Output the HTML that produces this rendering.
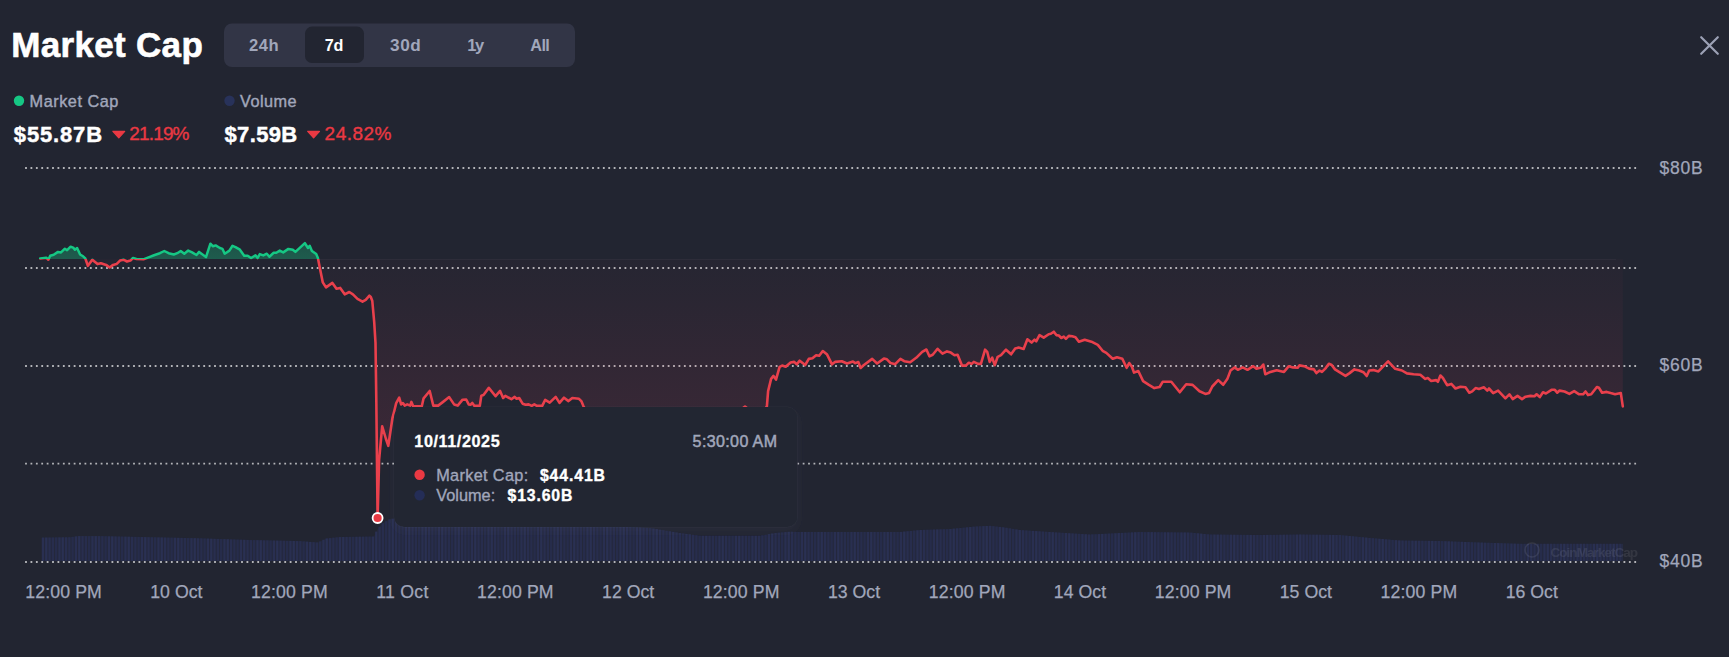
<!DOCTYPE html>
<html><head><meta charset="utf-8"><title>Market Cap</title><style>
html,body{margin:0;padding:0;background:#222531;}
body{width:1729px;height:657px;overflow:hidden;}
svg{display:block;font-family:"Liberation Sans",Arial,sans-serif;}
</style></head><body>
<svg width="1729" height="657" viewBox="0 0 1729 657">
<defs>
<clipPath id="above"><rect x="0" y="0" width="1729" height="258.9"/></clipPath>
<clipPath id="below"><rect x="0" y="258.9" width="1729" height="398.1"/></clipPath>
<linearGradient id="rg" gradientUnits="userSpaceOnUse" x1="0" y1="258.9" x2="0" y2="518">
<stop offset="0" stop-color="#e33c5a" stop-opacity="0.02"/><stop offset="1" stop-color="#e33c5a" stop-opacity="0.17"/></linearGradient>
<linearGradient id="gg" gradientUnits="userSpaceOnUse" x1="0" y1="243" x2="0" y2="258.9">
<stop offset="0" stop-color="#16c784" stop-opacity="0.28"/><stop offset="1" stop-color="#16c784" stop-opacity="0.34"/></linearGradient>
<filter id="sh" x="-10%" y="-20%" width="120%" height="150%"><feDropShadow dx="0" dy="4" stdDeviation="5" flood-color="#5a6080" flood-opacity="0.10"/></filter>
</defs>
<rect width="1729" height="657" fill="#222531"/>

<text x="11.2" y="57.3" font-size="35" fill="#ffffff" font-weight="700" textLength="191.6" lengthAdjust="spacing" stroke="#ffffff" stroke-width="0.6">Market Cap</text>
<rect x="224" y="23.5" width="351" height="43.5" rx="8" fill="#323546"/>
<rect x="305" y="26.6" width="59" height="36.4" rx="7" fill="#222531"/>
<text x="248.9" y="51.3" font-size="16.6" fill="#a1a7bb" font-weight="700" textLength="29.7" lengthAdjust="spacing">24h</text>
<text x="324.8" y="51.3" font-size="16.2" fill="#ffffff" font-weight="700" textLength="18.7" lengthAdjust="spacing">7d</text>
<text x="390" y="51.3" font-size="17.2" fill="#a1a7bb" font-weight="700" textLength="30.8" lengthAdjust="spacing">30d</text>
<text x="467.2" y="51.3" font-size="16.5" fill="#a1a7bb" font-weight="700" textLength="17.1" lengthAdjust="spacing">1y</text>
<text x="530.3" y="51.3" font-size="16.3" fill="#a1a7bb" font-weight="700" textLength="19.6" lengthAdjust="spacing">All</text>
<path d="M1701.2,37.2 L1717.8,53.8 M1717.8,37.2 L1701.2,53.8" stroke="#9ca1b5" stroke-width="2.2" stroke-linecap="round"/>
<circle cx="19" cy="100.8" r="5.2" fill="#16c784"/>
<text x="29.6" y="106.7" font-size="16.3" fill="#a1a7bb" textLength="88.8" lengthAdjust="spacing" stroke="#a1a7bb" stroke-width="0.4">Market Cap</text>
<circle cx="229.5" cy="100.8" r="5.2" fill="#28325a"/>
<text x="240" y="106.7" font-size="16.3" fill="#a1a7bb" textLength="56.5" lengthAdjust="spacing" stroke="#a1a7bb" stroke-width="0.4">Volume</text>
<text x="13.8" y="141.9" font-size="22" fill="#ffffff" font-weight="700" textLength="88.3" lengthAdjust="spacing" stroke="#ffffff" stroke-width="0.45">$55.87B</text>
<path d="M112.9,131.3 L124.7,131.3 L118.8,137.9 Z" fill="#ea3943" stroke="#ea3943" stroke-width="1.2" stroke-linejoin="round"/>
<text x="129.3" y="140.4" font-size="19" fill="#ea3943" textLength="60.2" lengthAdjust="spacing" stroke="#ea3943" stroke-width="0.35">21.19%</text>
<text x="224.5" y="141.9" font-size="22" fill="#ffffff" font-weight="700" textLength="72.7" lengthAdjust="spacing" stroke="#ffffff" stroke-width="0.45">$7.59B</text>
<path d="M307.7,131.3 L319.5,131.3 L313.6,137.9 Z" fill="#ea3943" stroke="#ea3943" stroke-width="1.2" stroke-linejoin="round"/>
<text x="324.6" y="140.4" font-size="19" fill="#ea3943" textLength="66.8" lengthAdjust="spacing" stroke="#ea3943" stroke-width="0.35">24.82%</text>
<text x="1659.5" y="173.8" font-size="17.5" fill="#a1a7bb" textLength="43.2" lengthAdjust="spacing" stroke="#a1a7bb" stroke-width="0.25">$80B</text>
<text x="1659.5" y="371" font-size="17.5" fill="#a1a7bb" textLength="43.2" lengthAdjust="spacing" stroke="#a1a7bb" stroke-width="0.25">$60B</text>
<text x="1659.5" y="566.8" font-size="17.5" fill="#a1a7bb" textLength="43.2" lengthAdjust="spacing" stroke="#a1a7bb" stroke-width="0.25">$40B</text>
<text x="25.2" y="598.1" font-size="17.7" fill="#a1a7bb" textLength="76.6" lengthAdjust="spacing" stroke="#a1a7bb" stroke-width="0.25">12:00 PM</text>
<text x="150.25" y="598.1" font-size="17.7" fill="#a1a7bb" textLength="52.2" lengthAdjust="spacing" stroke="#a1a7bb" stroke-width="0.25">10 Oct</text>
<text x="251.1" y="598.1" font-size="17.7" fill="#a1a7bb" textLength="76.6" lengthAdjust="spacing" stroke="#a1a7bb" stroke-width="0.25">12:00 PM</text>
<text x="376.15" y="598.1" font-size="17.7" fill="#a1a7bb" textLength="52.2" lengthAdjust="spacing" stroke="#a1a7bb" stroke-width="0.25">11 Oct</text>
<text x="477" y="598.1" font-size="17.7" fill="#a1a7bb" textLength="76.6" lengthAdjust="spacing" stroke="#a1a7bb" stroke-width="0.25">12:00 PM</text>
<text x="602.05" y="598.1" font-size="17.7" fill="#a1a7bb" textLength="52.2" lengthAdjust="spacing" stroke="#a1a7bb" stroke-width="0.25">12 Oct</text>
<text x="702.9" y="598.1" font-size="17.7" fill="#a1a7bb" textLength="76.6" lengthAdjust="spacing" stroke="#a1a7bb" stroke-width="0.25">12:00 PM</text>
<text x="827.95" y="598.1" font-size="17.7" fill="#a1a7bb" textLength="52.2" lengthAdjust="spacing" stroke="#a1a7bb" stroke-width="0.25">13 Oct</text>
<text x="928.8" y="598.1" font-size="17.7" fill="#a1a7bb" textLength="76.6" lengthAdjust="spacing" stroke="#a1a7bb" stroke-width="0.25">12:00 PM</text>
<text x="1053.85" y="598.1" font-size="17.7" fill="#a1a7bb" textLength="52.2" lengthAdjust="spacing" stroke="#a1a7bb" stroke-width="0.25">14 Oct</text>
<text x="1154.7" y="598.1" font-size="17.7" fill="#a1a7bb" textLength="76.6" lengthAdjust="spacing" stroke="#a1a7bb" stroke-width="0.25">12:00 PM</text>
<text x="1279.75" y="598.1" font-size="17.7" fill="#a1a7bb" textLength="52.2" lengthAdjust="spacing" stroke="#a1a7bb" stroke-width="0.25">15 Oct</text>
<text x="1380.6" y="598.1" font-size="17.7" fill="#a1a7bb" textLength="76.6" lengthAdjust="spacing" stroke="#a1a7bb" stroke-width="0.25">12:00 PM</text>
<text x="1505.65" y="598.1" font-size="17.7" fill="#a1a7bb" textLength="52.2" lengthAdjust="spacing" stroke="#a1a7bb" stroke-width="0.25">16 Oct</text>
<path d="M41.8,537.6 L70,537.2 L78,536.1 L100,536.1 L200,538.3 L250,540 L300,541.1 L318,542.5 L326,538.5 L340,537 L374,536.5 L377,530 L382,523.5 L391,518.5 L396,519 L400,521 L450,524 L500,525 L560,526 L620,526.5 L650,528 L680,533 L700,535.8 L760,535.8 L775,533 L790,531.7 L800,532 L900,532 L920,530 L950,529 L975,526.5 L990,525.8 L1005,527.5 L1020,530 L1050,532 L1090,534.5 L1140,532 L1190,532.5 L1210,534.5 L1260,535 L1300,534.5 L1340,535 L1370,537.9 L1400,540.5 L1440,541 L1480,542.5 L1520,543.8 L1623,543.8 L1623,561 L41.8,561 Z" fill="#24283b"/>
<g><rect x="41.8" y="537.58" width="2.3" height="23.42" fill="#292f51"/><rect x="45.1" y="537.54" width="2.3" height="23.46" fill="#2a3053"/><rect x="48.4" y="537.49" width="2.3" height="23.51" fill="#282e4f"/><rect x="51.7" y="537.44" width="2.3" height="23.56" fill="#272d4d"/><rect x="55" y="537.4" width="2.3" height="23.6" fill="#262c4b"/><rect x="58.3" y="537.35" width="2.3" height="23.65" fill="#292f51"/><rect x="61.6" y="537.3" width="2.3" height="23.7" fill="#2a3053"/><rect x="64.9" y="537.26" width="2.3" height="23.74" fill="#282e4f"/><rect x="68.2" y="537.21" width="2.3" height="23.79" fill="#272d4d"/><rect x="71.5" y="536.84" width="2.3" height="24.16" fill="#262c4b"/><rect x="74.8" y="536.38" width="2.3" height="24.62" fill="#292f51"/><rect x="78.1" y="536.1" width="2.3" height="24.9" fill="#2a3053"/><rect x="81.4" y="536.1" width="2.3" height="24.9" fill="#282e4f"/><rect x="84.7" y="536.1" width="2.3" height="24.9" fill="#272d4d"/><rect x="88" y="536.1" width="2.3" height="24.9" fill="#262c4b"/><rect x="91.3" y="536.1" width="2.3" height="24.9" fill="#292f51"/><rect x="94.6" y="536.1" width="2.3" height="24.9" fill="#2a3053"/><rect x="97.9" y="536.1" width="2.3" height="24.9" fill="#282e4f"/><rect x="101.2" y="536.15" width="2.3" height="24.85" fill="#272d4d"/><rect x="104.5" y="536.22" width="2.3" height="24.78" fill="#262c4b"/><rect x="107.8" y="536.3" width="2.3" height="24.7" fill="#292f51"/><rect x="111.1" y="536.37" width="2.3" height="24.63" fill="#2a3053"/><rect x="114.4" y="536.44" width="2.3" height="24.56" fill="#282e4f"/><rect x="117.7" y="536.51" width="2.3" height="24.49" fill="#272d4d"/><rect x="121" y="536.59" width="2.3" height="24.41" fill="#262c4b"/><rect x="124.3" y="536.66" width="2.3" height="24.34" fill="#292f51"/><rect x="127.6" y="536.73" width="2.3" height="24.27" fill="#2a3053"/><rect x="130.9" y="536.81" width="2.3" height="24.19" fill="#282e4f"/><rect x="134.2" y="536.88" width="2.3" height="24.12" fill="#272d4d"/><rect x="137.5" y="536.95" width="2.3" height="24.05" fill="#262c4b"/><rect x="140.8" y="537.02" width="2.3" height="23.98" fill="#292f51"/><rect x="144.1" y="537.1" width="2.3" height="23.9" fill="#2a3053"/><rect x="147.4" y="537.17" width="2.3" height="23.83" fill="#282e4f"/><rect x="150.7" y="537.24" width="2.3" height="23.76" fill="#272d4d"/><rect x="154" y="537.31" width="2.3" height="23.69" fill="#262c4b"/><rect x="157.3" y="537.39" width="2.3" height="23.61" fill="#292f51"/><rect x="160.6" y="537.46" width="2.3" height="23.54" fill="#2a3053"/><rect x="163.9" y="537.53" width="2.3" height="23.47" fill="#282e4f"/><rect x="167.2" y="537.6" width="2.3" height="23.4" fill="#272d4d"/><rect x="170.5" y="537.68" width="2.3" height="23.32" fill="#262c4b"/><rect x="173.8" y="537.75" width="2.3" height="23.25" fill="#292f51"/><rect x="177.1" y="537.82" width="2.3" height="23.18" fill="#2a3053"/><rect x="180.4" y="537.89" width="2.3" height="23.11" fill="#282e4f"/><rect x="183.7" y="537.97" width="2.3" height="23.03" fill="#272d4d"/><rect x="187" y="538.04" width="2.3" height="22.96" fill="#262c4b"/><rect x="190.3" y="538.11" width="2.3" height="22.89" fill="#292f51"/><rect x="193.6" y="538.18" width="2.3" height="22.82" fill="#2a3053"/><rect x="196.9" y="538.26" width="2.3" height="22.74" fill="#282e4f"/><rect x="200.2" y="538.35" width="2.3" height="22.65" fill="#272d4d"/><rect x="203.5" y="538.46" width="2.3" height="22.54" fill="#262c4b"/><rect x="206.8" y="538.57" width="2.3" height="22.43" fill="#292f51"/><rect x="210.1" y="538.68" width="2.3" height="22.32" fill="#2a3053"/><rect x="213.4" y="538.79" width="2.3" height="22.21" fill="#282e4f"/><rect x="216.7" y="538.91" width="2.3" height="22.09" fill="#272d4d"/><rect x="220" y="539.02" width="2.3" height="21.98" fill="#262c4b"/><rect x="223.3" y="539.13" width="2.3" height="21.87" fill="#292f51"/><rect x="226.6" y="539.24" width="2.3" height="21.76" fill="#2a3053"/><rect x="229.9" y="539.36" width="2.3" height="21.64" fill="#282e4f"/><rect x="233.2" y="539.47" width="2.3" height="21.53" fill="#272d4d"/><rect x="236.5" y="539.58" width="2.3" height="21.42" fill="#262c4b"/><rect x="239.8" y="539.69" width="2.3" height="21.31" fill="#292f51"/><rect x="243.1" y="539.8" width="2.3" height="21.2" fill="#2a3053"/><rect x="246.4" y="539.92" width="2.3" height="21.08" fill="#282e4f"/><rect x="249.7" y="540.02" width="2.3" height="20.98" fill="#272d4d"/><rect x="253" y="540.09" width="2.3" height="20.91" fill="#262c4b"/><rect x="256.3" y="540.16" width="2.3" height="20.84" fill="#292f51"/><rect x="259.6" y="540.24" width="2.3" height="20.76" fill="#2a3053"/><rect x="262.9" y="540.31" width="2.3" height="20.69" fill="#282e4f"/><rect x="266.2" y="540.38" width="2.3" height="20.62" fill="#272d4d"/><rect x="269.5" y="540.45" width="2.3" height="20.55" fill="#262c4b"/><rect x="272.8" y="540.53" width="2.3" height="20.47" fill="#292f51"/><rect x="276.1" y="540.6" width="2.3" height="20.4" fill="#2a3053"/><rect x="279.4" y="540.67" width="2.3" height="20.33" fill="#282e4f"/><rect x="282.7" y="540.74" width="2.3" height="20.26" fill="#272d4d"/><rect x="286" y="540.82" width="2.3" height="20.18" fill="#262c4b"/><rect x="289.3" y="540.89" width="2.3" height="20.11" fill="#292f51"/><rect x="292.6" y="540.96" width="2.3" height="20.04" fill="#2a3053"/><rect x="295.9" y="541.04" width="2.3" height="19.96" fill="#282e4f"/><rect x="299.2" y="541.13" width="2.3" height="19.87" fill="#272d4d"/><rect x="302.5" y="541.38" width="2.3" height="19.62" fill="#262c4b"/><rect x="305.8" y="541.64" width="2.3" height="19.36" fill="#292f51"/><rect x="309.1" y="541.9" width="2.3" height="19.1" fill="#2a3053"/><rect x="312.4" y="542.15" width="2.3" height="18.85" fill="#282e4f"/><rect x="315.7" y="542.41" width="2.3" height="18.59" fill="#272d4d"/><rect x="319" y="541.42" width="2.3" height="19.58" fill="#262c4b"/><rect x="322.3" y="539.77" width="2.3" height="21.23" fill="#292f51"/><rect x="325.6" y="538.42" width="2.3" height="22.58" fill="#2a3053"/><rect x="328.9" y="538.07" width="2.3" height="22.93" fill="#282e4f"/><rect x="332.2" y="537.71" width="2.3" height="23.29" fill="#272d4d"/><rect x="335.5" y="537.36" width="2.3" height="23.64" fill="#262c4b"/><rect x="338.8" y="537.01" width="2.3" height="23.99" fill="#292f51"/><rect x="342.1" y="536.95" width="2.3" height="24.05" fill="#2a3053"/><rect x="345.4" y="536.9" width="2.3" height="24.1" fill="#282e4f"/><rect x="348.7" y="536.86" width="2.3" height="24.14" fill="#272d4d"/><rect x="352" y="536.81" width="2.3" height="24.19" fill="#262c4b"/><rect x="355.3" y="536.76" width="2.3" height="24.24" fill="#292f51"/><rect x="358.6" y="536.71" width="2.3" height="24.29" fill="#2a3053"/><rect x="361.9" y="536.66" width="2.3" height="24.34" fill="#282e4f"/><rect x="365.2" y="536.61" width="2.3" height="24.39" fill="#272d4d"/><rect x="368.5" y="536.56" width="2.3" height="24.44" fill="#262c4b"/><rect x="371.8" y="536.52" width="2.3" height="24.48" fill="#292f51"/><rect x="375.1" y="531.62" width="2.3" height="29.38" fill="#2a3053"/><rect x="378.4" y="526.68" width="2.3" height="34.32" fill="#282e4f"/><rect x="381.7" y="523.03" width="2.3" height="37.97" fill="#272d4d"/><rect x="385" y="521.19" width="2.3" height="39.81" fill="#262c4b"/><rect x="388.3" y="519.36" width="2.3" height="41.64" fill="#292f51"/><rect x="391.6" y="518.68" width="2.3" height="42.32" fill="#2a3053"/><rect x="394.9" y="519.03" width="2.3" height="41.97" fill="#282e4f"/><rect x="398.2" y="520.68" width="2.3" height="40.32" fill="#272d4d"/><rect x="401.5" y="521.16" width="2.3" height="39.84" fill="#262c4b"/><rect x="404.8" y="521.36" width="2.3" height="39.64" fill="#292f51"/><rect x="408.1" y="521.56" width="2.3" height="39.44" fill="#2a3053"/><rect x="411.4" y="521.75" width="2.3" height="39.25" fill="#282e4f"/><rect x="414.7" y="521.95" width="2.3" height="39.05" fill="#272d4d"/><rect x="418" y="522.15" width="2.3" height="38.85" fill="#262c4b"/><rect x="421.3" y="522.35" width="2.3" height="38.65" fill="#292f51"/><rect x="424.6" y="522.55" width="2.3" height="38.45" fill="#2a3053"/><rect x="427.9" y="522.74" width="2.3" height="38.26" fill="#282e4f"/><rect x="431.2" y="522.94" width="2.3" height="38.06" fill="#272d4d"/><rect x="434.5" y="523.14" width="2.3" height="37.86" fill="#262c4b"/><rect x="437.8" y="523.34" width="2.3" height="37.66" fill="#292f51"/><rect x="441.1" y="523.54" width="2.3" height="37.46" fill="#2a3053"/><rect x="444.4" y="523.73" width="2.3" height="37.27" fill="#282e4f"/><rect x="447.7" y="523.93" width="2.3" height="37.07" fill="#272d4d"/><rect x="451" y="524.04" width="2.3" height="36.96" fill="#262c4b"/><rect x="454.3" y="524.11" width="2.3" height="36.89" fill="#292f51"/><rect x="457.6" y="524.18" width="2.3" height="36.82" fill="#2a3053"/><rect x="460.9" y="524.24" width="2.3" height="36.76" fill="#282e4f"/><rect x="464.2" y="524.31" width="2.3" height="36.69" fill="#272d4d"/><rect x="467.5" y="524.37" width="2.3" height="36.63" fill="#262c4b"/><rect x="470.8" y="524.44" width="2.3" height="36.56" fill="#292f51"/><rect x="474.1" y="524.5" width="2.3" height="36.5" fill="#2a3053"/><rect x="477.4" y="524.57" width="2.3" height="36.43" fill="#282e4f"/><rect x="480.7" y="524.64" width="2.3" height="36.36" fill="#272d4d"/><rect x="484" y="524.7" width="2.3" height="36.3" fill="#262c4b"/><rect x="487.3" y="524.77" width="2.3" height="36.23" fill="#292f51"/><rect x="490.6" y="524.84" width="2.3" height="36.16" fill="#2a3053"/><rect x="493.9" y="524.9" width="2.3" height="36.1" fill="#282e4f"/><rect x="497.2" y="524.97" width="2.3" height="36.03" fill="#272d4d"/><rect x="500.5" y="525.03" width="2.3" height="35.97" fill="#262c4b"/><rect x="503.8" y="525.08" width="2.3" height="35.92" fill="#292f51"/><rect x="507.1" y="525.14" width="2.3" height="35.86" fill="#2a3053"/><rect x="510.4" y="525.19" width="2.3" height="35.81" fill="#282e4f"/><rect x="513.7" y="525.25" width="2.3" height="35.75" fill="#272d4d"/><rect x="517" y="525.3" width="2.3" height="35.7" fill="#262c4b"/><rect x="520.3" y="525.36" width="2.3" height="35.64" fill="#292f51"/><rect x="523.6" y="525.41" width="2.3" height="35.59" fill="#2a3053"/><rect x="526.9" y="525.47" width="2.3" height="35.53" fill="#282e4f"/><rect x="530.2" y="525.52" width="2.3" height="35.48" fill="#272d4d"/><rect x="533.5" y="525.58" width="2.3" height="35.42" fill="#262c4b"/><rect x="536.8" y="525.63" width="2.3" height="35.37" fill="#292f51"/><rect x="540.1" y="525.69" width="2.3" height="35.31" fill="#2a3053"/><rect x="543.4" y="525.74" width="2.3" height="35.26" fill="#282e4f"/><rect x="546.7" y="525.8" width="2.3" height="35.2" fill="#272d4d"/><rect x="550" y="525.85" width="2.3" height="35.15" fill="#262c4b"/><rect x="553.3" y="525.91" width="2.3" height="35.09" fill="#292f51"/><rect x="556.6" y="525.96" width="2.3" height="35.04" fill="#2a3053"/><rect x="559.9" y="526.01" width="2.3" height="34.99" fill="#282e4f"/><rect x="563.2" y="526.04" width="2.3" height="34.96" fill="#272d4d"/><rect x="566.5" y="526.06" width="2.3" height="34.94" fill="#262c4b"/><rect x="569.8" y="526.09" width="2.3" height="34.91" fill="#292f51"/><rect x="573.1" y="526.12" width="2.3" height="34.88" fill="#2a3053"/><rect x="576.4" y="526.15" width="2.3" height="34.85" fill="#282e4f"/><rect x="579.7" y="526.17" width="2.3" height="34.83" fill="#272d4d"/><rect x="583" y="526.2" width="2.3" height="34.8" fill="#262c4b"/><rect x="586.3" y="526.23" width="2.3" height="34.77" fill="#292f51"/><rect x="589.6" y="526.26" width="2.3" height="34.74" fill="#2a3053"/><rect x="592.9" y="526.28" width="2.3" height="34.72" fill="#282e4f"/><rect x="596.2" y="526.31" width="2.3" height="34.69" fill="#272d4d"/><rect x="599.5" y="526.34" width="2.3" height="34.66" fill="#262c4b"/><rect x="602.8" y="526.37" width="2.3" height="34.63" fill="#292f51"/><rect x="606.1" y="526.39" width="2.3" height="34.61" fill="#2a3053"/><rect x="609.4" y="526.42" width="2.3" height="34.58" fill="#282e4f"/><rect x="612.7" y="526.45" width="2.3" height="34.55" fill="#272d4d"/><rect x="616" y="526.48" width="2.3" height="34.52" fill="#262c4b"/><rect x="619.3" y="526.52" width="2.3" height="34.48" fill="#292f51"/><rect x="622.6" y="526.69" width="2.3" height="34.31" fill="#2a3053"/><rect x="625.9" y="526.85" width="2.3" height="34.15" fill="#282e4f"/><rect x="629.2" y="527.02" width="2.3" height="33.98" fill="#272d4d"/><rect x="632.5" y="527.18" width="2.3" height="33.82" fill="#262c4b"/><rect x="635.8" y="527.35" width="2.3" height="33.65" fill="#292f51"/><rect x="639.1" y="527.51" width="2.3" height="33.49" fill="#2a3053"/><rect x="642.4" y="527.68" width="2.3" height="33.32" fill="#282e4f"/><rect x="645.7" y="527.84" width="2.3" height="33.16" fill="#272d4d"/><rect x="649" y="528.02" width="2.3" height="32.98" fill="#262c4b"/><rect x="652.3" y="528.57" width="2.3" height="32.43" fill="#292f51"/><rect x="655.6" y="529.12" width="2.3" height="31.88" fill="#2a3053"/><rect x="658.9" y="529.67" width="2.3" height="31.33" fill="#282e4f"/><rect x="662.2" y="530.22" width="2.3" height="30.78" fill="#272d4d"/><rect x="665.5" y="530.77" width="2.3" height="30.23" fill="#262c4b"/><rect x="668.8" y="531.32" width="2.3" height="29.68" fill="#292f51"/><rect x="672.1" y="531.87" width="2.3" height="29.13" fill="#2a3053"/><rect x="675.4" y="532.42" width="2.3" height="28.58" fill="#282e4f"/><rect x="678.7" y="532.97" width="2.3" height="28.03" fill="#272d4d"/><rect x="682" y="533.44" width="2.3" height="27.56" fill="#262c4b"/><rect x="685.3" y="533.9" width="2.3" height="27.1" fill="#292f51"/><rect x="688.6" y="534.36" width="2.3" height="26.64" fill="#2a3053"/><rect x="691.9" y="534.83" width="2.3" height="26.17" fill="#282e4f"/><rect x="695.2" y="535.29" width="2.3" height="25.71" fill="#272d4d"/><rect x="698.5" y="535.75" width="2.3" height="25.25" fill="#262c4b"/><rect x="701.8" y="535.8" width="2.3" height="25.2" fill="#292f51"/><rect x="705.1" y="535.8" width="2.3" height="25.2" fill="#2a3053"/><rect x="708.4" y="535.8" width="2.3" height="25.2" fill="#282e4f"/><rect x="711.7" y="535.8" width="2.3" height="25.2" fill="#272d4d"/><rect x="715" y="535.8" width="2.3" height="25.2" fill="#262c4b"/><rect x="718.3" y="535.8" width="2.3" height="25.2" fill="#292f51"/><rect x="721.6" y="535.8" width="2.3" height="25.2" fill="#2a3053"/><rect x="724.9" y="535.8" width="2.3" height="25.2" fill="#282e4f"/><rect x="728.2" y="535.8" width="2.3" height="25.2" fill="#272d4d"/><rect x="731.5" y="535.8" width="2.3" height="25.2" fill="#262c4b"/><rect x="734.8" y="535.8" width="2.3" height="25.2" fill="#292f51"/><rect x="738.1" y="535.8" width="2.3" height="25.2" fill="#2a3053"/><rect x="741.4" y="535.8" width="2.3" height="25.2" fill="#282e4f"/><rect x="744.7" y="535.8" width="2.3" height="25.2" fill="#272d4d"/><rect x="748" y="535.8" width="2.3" height="25.2" fill="#262c4b"/><rect x="751.3" y="535.8" width="2.3" height="25.2" fill="#292f51"/><rect x="754.6" y="535.8" width="2.3" height="25.2" fill="#2a3053"/><rect x="757.9" y="535.8" width="2.3" height="25.2" fill="#282e4f"/><rect x="761.2" y="535.36" width="2.3" height="25.64" fill="#272d4d"/><rect x="764.5" y="534.75" width="2.3" height="26.25" fill="#262c4b"/><rect x="767.8" y="534.13" width="2.3" height="26.87" fill="#292f51"/><rect x="771.1" y="533.51" width="2.3" height="27.49" fill="#2a3053"/><rect x="774.4" y="532.95" width="2.3" height="28.05" fill="#282e4f"/><rect x="777.7" y="532.67" width="2.3" height="28.33" fill="#272d4d"/><rect x="781" y="532.38" width="2.3" height="28.62" fill="#262c4b"/><rect x="784.3" y="532.09" width="2.3" height="28.91" fill="#292f51"/><rect x="787.6" y="531.81" width="2.3" height="29.19" fill="#2a3053"/><rect x="790.9" y="531.76" width="2.3" height="29.24" fill="#282e4f"/><rect x="794.2" y="531.86" width="2.3" height="29.14" fill="#272d4d"/><rect x="797.5" y="531.96" width="2.3" height="29.04" fill="#262c4b"/><rect x="800.8" y="532" width="2.3" height="29" fill="#292f51"/><rect x="804.1" y="532" width="2.3" height="29" fill="#2a3053"/><rect x="807.4" y="532" width="2.3" height="29" fill="#282e4f"/><rect x="810.7" y="532" width="2.3" height="29" fill="#272d4d"/><rect x="814" y="532" width="2.3" height="29" fill="#262c4b"/><rect x="817.3" y="532" width="2.3" height="29" fill="#292f51"/><rect x="820.6" y="532" width="2.3" height="29" fill="#2a3053"/><rect x="823.9" y="532" width="2.3" height="29" fill="#282e4f"/><rect x="827.2" y="532" width="2.3" height="29" fill="#272d4d"/><rect x="830.5" y="532" width="2.3" height="29" fill="#262c4b"/><rect x="833.8" y="532" width="2.3" height="29" fill="#292f51"/><rect x="837.1" y="532" width="2.3" height="29" fill="#2a3053"/><rect x="840.4" y="532" width="2.3" height="29" fill="#282e4f"/><rect x="843.7" y="532" width="2.3" height="29" fill="#272d4d"/><rect x="847" y="532" width="2.3" height="29" fill="#262c4b"/><rect x="850.3" y="532" width="2.3" height="29" fill="#292f51"/><rect x="853.6" y="532" width="2.3" height="29" fill="#2a3053"/><rect x="856.9" y="532" width="2.3" height="29" fill="#282e4f"/><rect x="860.2" y="532" width="2.3" height="29" fill="#272d4d"/><rect x="863.5" y="532" width="2.3" height="29" fill="#262c4b"/><rect x="866.8" y="532" width="2.3" height="29" fill="#292f51"/><rect x="870.1" y="532" width="2.3" height="29" fill="#2a3053"/><rect x="873.4" y="532" width="2.3" height="29" fill="#282e4f"/><rect x="876.7" y="532" width="2.3" height="29" fill="#272d4d"/><rect x="880" y="532" width="2.3" height="29" fill="#262c4b"/><rect x="883.3" y="532" width="2.3" height="29" fill="#292f51"/><rect x="886.6" y="532" width="2.3" height="29" fill="#2a3053"/><rect x="889.9" y="532" width="2.3" height="29" fill="#282e4f"/><rect x="893.2" y="532" width="2.3" height="29" fill="#272d4d"/><rect x="896.5" y="532" width="2.3" height="29" fill="#262c4b"/><rect x="899.8" y="531.91" width="2.3" height="29.09" fill="#292f51"/><rect x="903.1" y="531.58" width="2.3" height="29.42" fill="#2a3053"/><rect x="906.4" y="531.25" width="2.3" height="29.75" fill="#282e4f"/><rect x="909.7" y="530.92" width="2.3" height="30.08" fill="#272d4d"/><rect x="913" y="530.59" width="2.3" height="30.41" fill="#262c4b"/><rect x="916.3" y="530.26" width="2.3" height="30.74" fill="#292f51"/><rect x="919.6" y="529.98" width="2.3" height="31.02" fill="#2a3053"/><rect x="922.9" y="529.87" width="2.3" height="31.13" fill="#282e4f"/><rect x="926.2" y="529.76" width="2.3" height="31.24" fill="#272d4d"/><rect x="929.5" y="529.65" width="2.3" height="31.35" fill="#262c4b"/><rect x="932.8" y="529.54" width="2.3" height="31.46" fill="#292f51"/><rect x="936.1" y="529.43" width="2.3" height="31.57" fill="#2a3053"/><rect x="939.4" y="529.32" width="2.3" height="31.68" fill="#282e4f"/><rect x="942.7" y="529.21" width="2.3" height="31.79" fill="#272d4d"/><rect x="946" y="529.1" width="2.3" height="31.9" fill="#262c4b"/><rect x="949.3" y="528.96" width="2.3" height="32.04" fill="#292f51"/><rect x="952.6" y="528.63" width="2.3" height="32.37" fill="#2a3053"/><rect x="955.9" y="528.3" width="2.3" height="32.7" fill="#282e4f"/><rect x="959.2" y="527.97" width="2.3" height="33.03" fill="#272d4d"/><rect x="962.5" y="527.64" width="2.3" height="33.36" fill="#262c4b"/><rect x="965.8" y="527.31" width="2.3" height="33.69" fill="#292f51"/><rect x="969.1" y="526.98" width="2.3" height="34.02" fill="#2a3053"/><rect x="972.4" y="526.65" width="2.3" height="34.35" fill="#282e4f"/><rect x="975.7" y="526.41" width="2.3" height="34.59" fill="#272d4d"/><rect x="979" y="526.26" width="2.3" height="34.74" fill="#262c4b"/><rect x="982.3" y="526.11" width="2.3" height="34.89" fill="#292f51"/><rect x="985.6" y="525.95" width="2.3" height="35.05" fill="#2a3053"/><rect x="988.9" y="525.81" width="2.3" height="35.19" fill="#282e4f"/><rect x="992.2" y="526.18" width="2.3" height="34.82" fill="#272d4d"/><rect x="995.5" y="526.55" width="2.3" height="34.45" fill="#262c4b"/><rect x="998.8" y="526.93" width="2.3" height="34.07" fill="#292f51"/><rect x="1002.1" y="527.3" width="2.3" height="33.7" fill="#2a3053"/><rect x="1005.4" y="527.76" width="2.3" height="33.24" fill="#282e4f"/><rect x="1008.7" y="528.31" width="2.3" height="32.69" fill="#272d4d"/><rect x="1012" y="528.86" width="2.3" height="32.14" fill="#262c4b"/><rect x="1015.3" y="529.41" width="2.3" height="31.59" fill="#292f51"/><rect x="1018.6" y="529.96" width="2.3" height="31.04" fill="#2a3053"/><rect x="1021.9" y="530.2" width="2.3" height="30.8" fill="#282e4f"/><rect x="1025.2" y="530.42" width="2.3" height="30.58" fill="#272d4d"/><rect x="1028.5" y="530.64" width="2.3" height="30.36" fill="#262c4b"/><rect x="1031.8" y="530.86" width="2.3" height="30.14" fill="#292f51"/><rect x="1035.1" y="531.08" width="2.3" height="29.92" fill="#2a3053"/><rect x="1038.4" y="531.3" width="2.3" height="29.7" fill="#282e4f"/><rect x="1041.7" y="531.52" width="2.3" height="29.48" fill="#272d4d"/><rect x="1045" y="531.74" width="2.3" height="29.26" fill="#262c4b"/><rect x="1048.3" y="531.96" width="2.3" height="29.04" fill="#292f51"/><rect x="1051.6" y="532.17" width="2.3" height="28.83" fill="#2a3053"/><rect x="1054.9" y="532.38" width="2.3" height="28.62" fill="#282e4f"/><rect x="1058.2" y="532.58" width="2.3" height="28.42" fill="#272d4d"/><rect x="1061.5" y="532.79" width="2.3" height="28.21" fill="#262c4b"/><rect x="1064.8" y="533" width="2.3" height="28" fill="#292f51"/><rect x="1068.1" y="533.2" width="2.3" height="27.8" fill="#2a3053"/><rect x="1071.4" y="533.41" width="2.3" height="27.59" fill="#282e4f"/><rect x="1074.7" y="533.62" width="2.3" height="27.38" fill="#272d4d"/><rect x="1078" y="533.82" width="2.3" height="27.18" fill="#262c4b"/><rect x="1081.3" y="534.03" width="2.3" height="26.97" fill="#292f51"/><rect x="1084.6" y="534.23" width="2.3" height="26.77" fill="#2a3053"/><rect x="1087.9" y="534.44" width="2.3" height="26.56" fill="#282e4f"/><rect x="1091.2" y="534.38" width="2.3" height="26.62" fill="#272d4d"/><rect x="1094.5" y="534.22" width="2.3" height="26.78" fill="#262c4b"/><rect x="1097.8" y="534.05" width="2.3" height="26.95" fill="#292f51"/><rect x="1101.1" y="533.89" width="2.3" height="27.11" fill="#2a3053"/><rect x="1104.4" y="533.72" width="2.3" height="27.28" fill="#282e4f"/><rect x="1107.7" y="533.56" width="2.3" height="27.44" fill="#272d4d"/><rect x="1111" y="533.39" width="2.3" height="27.61" fill="#262c4b"/><rect x="1114.3" y="533.23" width="2.3" height="27.77" fill="#292f51"/><rect x="1117.6" y="533.06" width="2.3" height="27.94" fill="#2a3053"/><rect x="1120.9" y="532.9" width="2.3" height="28.1" fill="#282e4f"/><rect x="1124.2" y="532.73" width="2.3" height="28.27" fill="#272d4d"/><rect x="1127.5" y="532.57" width="2.3" height="28.43" fill="#262c4b"/><rect x="1130.8" y="532.4" width="2.3" height="28.6" fill="#292f51"/><rect x="1134.1" y="532.24" width="2.3" height="28.76" fill="#2a3053"/><rect x="1137.4" y="532.07" width="2.3" height="28.93" fill="#282e4f"/><rect x="1140.7" y="532.02" width="2.3" height="28.98" fill="#272d4d"/><rect x="1144" y="532.05" width="2.3" height="28.95" fill="#262c4b"/><rect x="1147.3" y="532.08" width="2.3" height="28.92" fill="#292f51"/><rect x="1150.6" y="532.12" width="2.3" height="28.88" fill="#2a3053"/><rect x="1153.9" y="532.15" width="2.3" height="28.85" fill="#282e4f"/><rect x="1157.2" y="532.18" width="2.3" height="28.82" fill="#272d4d"/><rect x="1160.5" y="532.22" width="2.3" height="28.78" fill="#262c4b"/><rect x="1163.8" y="532.25" width="2.3" height="28.75" fill="#292f51"/><rect x="1167.1" y="532.28" width="2.3" height="28.72" fill="#2a3053"/><rect x="1170.4" y="532.32" width="2.3" height="28.68" fill="#282e4f"/><rect x="1173.7" y="532.35" width="2.3" height="28.65" fill="#272d4d"/><rect x="1177" y="532.38" width="2.3" height="28.62" fill="#262c4b"/><rect x="1180.3" y="532.41" width="2.3" height="28.59" fill="#292f51"/><rect x="1183.6" y="532.45" width="2.3" height="28.55" fill="#2a3053"/><rect x="1186.9" y="532.48" width="2.3" height="28.52" fill="#282e4f"/><rect x="1190.2" y="532.63" width="2.3" height="28.37" fill="#272d4d"/><rect x="1193.5" y="532.96" width="2.3" height="28.04" fill="#262c4b"/><rect x="1196.8" y="533.29" width="2.3" height="27.71" fill="#292f51"/><rect x="1200.1" y="533.62" width="2.3" height="27.38" fill="#2a3053"/><rect x="1203.4" y="533.95" width="2.3" height="27.05" fill="#282e4f"/><rect x="1206.7" y="534.28" width="2.3" height="26.72" fill="#272d4d"/><rect x="1210" y="534.51" width="2.3" height="26.49" fill="#262c4b"/><rect x="1213.3" y="534.54" width="2.3" height="26.46" fill="#292f51"/><rect x="1216.6" y="534.58" width="2.3" height="26.42" fill="#2a3053"/><rect x="1219.9" y="534.61" width="2.3" height="26.39" fill="#282e4f"/><rect x="1223.2" y="534.64" width="2.3" height="26.36" fill="#272d4d"/><rect x="1226.5" y="534.68" width="2.3" height="26.32" fill="#262c4b"/><rect x="1229.8" y="534.71" width="2.3" height="26.29" fill="#292f51"/><rect x="1233.1" y="534.74" width="2.3" height="26.26" fill="#2a3053"/><rect x="1236.4" y="534.78" width="2.3" height="26.22" fill="#282e4f"/><rect x="1239.7" y="534.81" width="2.3" height="26.19" fill="#272d4d"/><rect x="1243" y="534.84" width="2.3" height="26.16" fill="#262c4b"/><rect x="1246.3" y="534.87" width="2.3" height="26.13" fill="#292f51"/><rect x="1249.6" y="534.91" width="2.3" height="26.09" fill="#2a3053"/><rect x="1252.9" y="534.94" width="2.3" height="26.06" fill="#282e4f"/><rect x="1256.2" y="534.97" width="2.3" height="26.03" fill="#272d4d"/><rect x="1259.5" y="534.99" width="2.3" height="26.01" fill="#262c4b"/><rect x="1262.8" y="534.95" width="2.3" height="26.05" fill="#292f51"/><rect x="1266.1" y="534.91" width="2.3" height="26.09" fill="#2a3053"/><rect x="1269.4" y="534.87" width="2.3" height="26.13" fill="#282e4f"/><rect x="1272.7" y="534.83" width="2.3" height="26.17" fill="#272d4d"/><rect x="1276" y="534.79" width="2.3" height="26.21" fill="#262c4b"/><rect x="1279.3" y="534.74" width="2.3" height="26.26" fill="#292f51"/><rect x="1282.6" y="534.7" width="2.3" height="26.3" fill="#2a3053"/><rect x="1285.9" y="534.66" width="2.3" height="26.34" fill="#282e4f"/><rect x="1289.2" y="534.62" width="2.3" height="26.38" fill="#272d4d"/><rect x="1292.5" y="534.58" width="2.3" height="26.42" fill="#262c4b"/><rect x="1295.8" y="534.54" width="2.3" height="26.46" fill="#292f51"/><rect x="1299.1" y="534.5" width="2.3" height="26.5" fill="#2a3053"/><rect x="1302.4" y="534.54" width="2.3" height="26.46" fill="#282e4f"/><rect x="1305.7" y="534.59" width="2.3" height="26.41" fill="#272d4d"/><rect x="1309" y="534.63" width="2.3" height="26.37" fill="#262c4b"/><rect x="1312.3" y="534.67" width="2.3" height="26.33" fill="#292f51"/><rect x="1315.6" y="534.71" width="2.3" height="26.29" fill="#2a3053"/><rect x="1318.9" y="534.75" width="2.3" height="26.25" fill="#282e4f"/><rect x="1322.2" y="534.79" width="2.3" height="26.21" fill="#272d4d"/><rect x="1325.5" y="534.83" width="2.3" height="26.17" fill="#262c4b"/><rect x="1328.8" y="534.87" width="2.3" height="26.13" fill="#292f51"/><rect x="1332.1" y="534.92" width="2.3" height="26.08" fill="#2a3053"/><rect x="1335.4" y="534.96" width="2.3" height="26.04" fill="#282e4f"/><rect x="1338.7" y="535" width="2.3" height="26" fill="#272d4d"/><rect x="1342" y="535.3" width="2.3" height="25.7" fill="#262c4b"/><rect x="1345.3" y="535.62" width="2.3" height="25.38" fill="#292f51"/><rect x="1348.6" y="535.94" width="2.3" height="25.06" fill="#2a3053"/><rect x="1351.9" y="536.26" width="2.3" height="24.74" fill="#282e4f"/><rect x="1355.2" y="536.58" width="2.3" height="24.42" fill="#272d4d"/><rect x="1358.5" y="536.9" width="2.3" height="24.1" fill="#262c4b"/><rect x="1361.8" y="537.22" width="2.3" height="23.78" fill="#292f51"/><rect x="1365.1" y="537.54" width="2.3" height="23.46" fill="#2a3053"/><rect x="1368.4" y="537.86" width="2.3" height="23.14" fill="#282e4f"/><rect x="1371.7" y="538.15" width="2.3" height="22.85" fill="#272d4d"/><rect x="1375" y="538.43" width="2.3" height="22.57" fill="#262c4b"/><rect x="1378.3" y="538.72" width="2.3" height="22.28" fill="#292f51"/><rect x="1381.6" y="539" width="2.3" height="22" fill="#2a3053"/><rect x="1384.9" y="539.29" width="2.3" height="21.71" fill="#282e4f"/><rect x="1388.2" y="539.58" width="2.3" height="21.42" fill="#272d4d"/><rect x="1391.5" y="539.86" width="2.3" height="21.14" fill="#262c4b"/><rect x="1394.8" y="540.15" width="2.3" height="20.85" fill="#292f51"/><rect x="1398.1" y="540.43" width="2.3" height="20.57" fill="#2a3053"/><rect x="1401.4" y="540.53" width="2.3" height="20.47" fill="#282e4f"/><rect x="1404.7" y="540.57" width="2.3" height="20.43" fill="#272d4d"/><rect x="1408" y="540.61" width="2.3" height="20.39" fill="#262c4b"/><rect x="1411.3" y="540.66" width="2.3" height="20.34" fill="#292f51"/><rect x="1414.6" y="540.7" width="2.3" height="20.3" fill="#2a3053"/><rect x="1417.9" y="540.74" width="2.3" height="20.26" fill="#282e4f"/><rect x="1421.2" y="540.78" width="2.3" height="20.22" fill="#272d4d"/><rect x="1424.5" y="540.82" width="2.3" height="20.18" fill="#262c4b"/><rect x="1427.8" y="540.86" width="2.3" height="20.14" fill="#292f51"/><rect x="1431.1" y="540.9" width="2.3" height="20.1" fill="#2a3053"/><rect x="1434.4" y="540.94" width="2.3" height="20.06" fill="#282e4f"/><rect x="1437.7" y="540.99" width="2.3" height="20.01" fill="#272d4d"/><rect x="1441" y="541.08" width="2.3" height="19.92" fill="#262c4b"/><rect x="1444.3" y="541.2" width="2.3" height="19.8" fill="#292f51"/><rect x="1447.6" y="541.33" width="2.3" height="19.67" fill="#2a3053"/><rect x="1450.9" y="541.45" width="2.3" height="19.55" fill="#282e4f"/><rect x="1454.2" y="541.58" width="2.3" height="19.42" fill="#272d4d"/><rect x="1457.5" y="541.7" width="2.3" height="19.3" fill="#262c4b"/><rect x="1460.8" y="541.82" width="2.3" height="19.18" fill="#292f51"/><rect x="1464.1" y="541.95" width="2.3" height="19.05" fill="#2a3053"/><rect x="1467.4" y="542.07" width="2.3" height="18.93" fill="#282e4f"/><rect x="1470.7" y="542.19" width="2.3" height="18.81" fill="#272d4d"/><rect x="1474" y="542.32" width="2.3" height="18.68" fill="#262c4b"/><rect x="1477.3" y="542.44" width="2.3" height="18.56" fill="#292f51"/><rect x="1480.6" y="542.56" width="2.3" height="18.44" fill="#2a3053"/><rect x="1483.9" y="542.66" width="2.3" height="18.34" fill="#282e4f"/><rect x="1487.2" y="542.77" width="2.3" height="18.23" fill="#272d4d"/><rect x="1490.5" y="542.88" width="2.3" height="18.12" fill="#262c4b"/><rect x="1493.8" y="542.99" width="2.3" height="18.01" fill="#292f51"/><rect x="1497.1" y="543.09" width="2.3" height="17.91" fill="#2a3053"/><rect x="1500.4" y="543.2" width="2.3" height="17.8" fill="#282e4f"/><rect x="1503.7" y="543.31" width="2.3" height="17.69" fill="#272d4d"/><rect x="1507" y="543.41" width="2.3" height="17.59" fill="#262c4b"/><rect x="1510.3" y="543.52" width="2.3" height="17.48" fill="#292f51"/><rect x="1513.6" y="543.63" width="2.3" height="17.37" fill="#2a3053"/><rect x="1516.9" y="543.74" width="2.3" height="17.26" fill="#282e4f"/><rect x="1520.2" y="543.8" width="2.3" height="17.2" fill="#272d4d"/><rect x="1523.5" y="543.8" width="2.3" height="17.2" fill="#262c4b"/><rect x="1526.8" y="543.8" width="2.3" height="17.2" fill="#292f51"/><rect x="1530.1" y="543.8" width="2.3" height="17.2" fill="#2a3053"/><rect x="1533.4" y="543.8" width="2.3" height="17.2" fill="#282e4f"/><rect x="1536.7" y="543.8" width="2.3" height="17.2" fill="#272d4d"/><rect x="1540" y="543.8" width="2.3" height="17.2" fill="#262c4b"/><rect x="1543.3" y="543.8" width="2.3" height="17.2" fill="#292f51"/><rect x="1546.6" y="543.8" width="2.3" height="17.2" fill="#2a3053"/><rect x="1549.9" y="543.8" width="2.3" height="17.2" fill="#282e4f"/><rect x="1553.2" y="543.8" width="2.3" height="17.2" fill="#272d4d"/><rect x="1556.5" y="543.8" width="2.3" height="17.2" fill="#262c4b"/><rect x="1559.8" y="543.8" width="2.3" height="17.2" fill="#292f51"/><rect x="1563.1" y="543.8" width="2.3" height="17.2" fill="#2a3053"/><rect x="1566.4" y="543.8" width="2.3" height="17.2" fill="#282e4f"/><rect x="1569.7" y="543.8" width="2.3" height="17.2" fill="#272d4d"/><rect x="1573" y="543.8" width="2.3" height="17.2" fill="#262c4b"/><rect x="1576.3" y="543.8" width="2.3" height="17.2" fill="#292f51"/><rect x="1579.6" y="543.8" width="2.3" height="17.2" fill="#2a3053"/><rect x="1582.9" y="543.8" width="2.3" height="17.2" fill="#282e4f"/><rect x="1586.2" y="543.8" width="2.3" height="17.2" fill="#272d4d"/><rect x="1589.5" y="543.8" width="2.3" height="17.2" fill="#262c4b"/><rect x="1592.8" y="543.8" width="2.3" height="17.2" fill="#292f51"/><rect x="1596.1" y="543.8" width="2.3" height="17.2" fill="#2a3053"/><rect x="1599.4" y="543.8" width="2.3" height="17.2" fill="#282e4f"/><rect x="1602.7" y="543.8" width="2.3" height="17.2" fill="#272d4d"/><rect x="1606" y="543.8" width="2.3" height="17.2" fill="#262c4b"/><rect x="1609.3" y="543.8" width="2.3" height="17.2" fill="#292f51"/><rect x="1612.6" y="543.8" width="2.3" height="17.2" fill="#2a3053"/><rect x="1615.9" y="543.8" width="2.3" height="17.2" fill="#282e4f"/><rect x="1619.2" y="543.8" width="2.3" height="17.2" fill="#272d4d"/><rect x="1622.5" y="543.8" width="0.5" height="17.2" fill="#262c4b"/></g>
<line x1="25.1" y1="168" x2="1637" y2="168" stroke="#ffffff" stroke-opacity="0.66" stroke-width="1.8" stroke-dasharray="1.8 3.6"/>
<line x1="25.1" y1="268" x2="1637" y2="268" stroke="#ffffff" stroke-opacity="0.66" stroke-width="1.8" stroke-dasharray="1.8 3.6"/>
<line x1="25.1" y1="366" x2="1637" y2="366" stroke="#ffffff" stroke-opacity="0.66" stroke-width="1.8" stroke-dasharray="1.8 3.6"/>
<line x1="25.1" y1="463.7" x2="1637" y2="463.7" stroke="#ffffff" stroke-opacity="0.66" stroke-width="1.8" stroke-dasharray="1.8 3.6"/>
<line x1="25.1" y1="562" x2="1637" y2="562" stroke="#ffffff" stroke-opacity="0.66" stroke-width="1.8" stroke-dasharray="1.8 3.6"/>
<g opacity="0.08"><circle cx="1532" cy="550" r="7" fill="none" stroke="#ffffff" stroke-width="1.6"/><text x="1550.5" y="556.5" font-size="13.5" fill="#ffffff" font-weight="700" textLength="87.5" lengthAdjust="spacing">CoinMarketCap</text></g>
<path d="M40.2,258.4 L46.3,257.7 L48.4,259.7 L50.2,255.8 L53.7,254.8 L58,251.9 L61,252.4 L64.9,248.7 L67.1,250.2 L70.6,246.7 L73.2,247.6 L74.9,249.7 L77.1,248 L80.1,254.5 L83.1,256.3 L85.3,258.4 L87.9,265.8 L92.3,259.7 L97.5,264.1 L100.9,263.2 L106.1,264.9 L109.6,267.5 L113.1,264.9 L116.5,264.1 L120,260.6 L123.5,259.7 L127,261.5 L130.4,260.6 L133,258 L136.5,258.9 L143.4,259.3 L147.8,257.6 L154.7,255 L159.9,253.2 L164.3,251 L168.6,253.2 L173.8,254.5 L177.3,253.2 L180.7,251 L184.3,253.7 L188.2,250.6 L192.1,252.4 L196.5,255 L199.1,251.9 L206,257.1 L210.4,243.7 L213,246.3 L215.6,245.4 L219.9,248 L222.5,248.9 L224.7,253.7 L229.4,250.6 L232.5,245.8 L235.5,247.1 L239.9,249.7 L244.2,255.8 L247.7,255.8 L251.1,258 L255.5,255.4 L257.6,258 L259.8,254.1 L263.3,255.4 L266.8,253.7 L269.4,256.7 L273.7,252.8 L276.3,252.8 L279.8,250.6 L283.2,252.4 L288.4,248.9 L292.8,249.7 L295.4,251.9 L304.9,243.2 L308,248 L309.7,245.8 L311.9,251 L316.2,254.1 L317.9,258 L320,268.7 L322.8,282.4 L326,287.4 L332.4,282.9 L336.5,288.8 L340.2,287.9 L344.7,294.3 L349.3,292 L352.9,294.3 L357.5,298.9 L362.5,301.6 L365.7,299.8 L369.4,295.7 L370.8,297 L372.3,301 L374.2,322 L375.5,343 L376.3,400 L377.6,518 L379.1,460 L382.2,426.3 L385.8,438.5 L388.3,445.8 L392.5,417.8 L394.4,410.5 L396.2,403.1 L399.2,397.7 L401.1,404.4 L402.9,403.1 L404.7,405.6 L407.2,404.4 L410.2,405.6 L411.4,401.9 L413.2,406.2 L421.8,406.2 L423.6,398.3 L429.7,391 L433.3,405.6 L438.2,405.6 L443.1,401.9 L449.2,397.1 L454.1,404.4 L457.7,405.6 L462.6,399.7 L466.2,399.5 L468.7,404.4 L470.5,404.8 L472.3,402.9 L474.5,405.9 L479.8,405.9 L481.3,395.8 L483.5,395 L488.8,387.9 L495.6,396.2 L500.1,390.9 L503.1,398 L505.3,395.8 L511.4,399.2 L514.7,396.9 L516.6,398.8 L519.2,398 L522.6,403.7 L525.6,404.8 L528.6,404.4 L531.7,405.9 L534.3,404.4 L536.9,405.9 L542.2,405.9 L545.2,399.9 L549.7,402.6 L555.7,396.9 L559.5,402.9 L564,397.7 L568.5,401.1 L572.3,398 L579,398.8 L581.3,401.1 L583.5,406.3 L590,418 L620,425 L660,420 L700,424 L735,414 L745,406.6 L752,412 L762,414 L766.9,406.3 L768.1,391.1 L771.1,378.9 L773.5,375.9 L776,379.6 L779.6,366.8 L782.1,365.6 L785.7,366.8 L790.6,362.5 L794.2,361.9 L796.7,364.3 L799.7,360.7 L805.2,365 L808.8,358.9 L812.5,358.3 L816.1,355.2 L819.2,355.8 L822.8,351 L827.1,354.6 L832,364.3 L835,361.9 L841.8,361.2 L847,363.5 L853,361.6 L855.3,363.1 L858.3,362 L860.6,368 L863.6,365.3 L872.2,358.9 L877.1,363.5 L883.9,358.6 L886.9,359.3 L890.6,363.1 L895.2,364.2 L900.4,358.9 L904.2,361.2 L910.2,362.3 L916.2,357.8 L922.2,351.8 L926.4,349.5 L929.4,356.3 L932.7,354.8 L937.6,348.8 L942.5,353.7 L947,351.4 L950.8,352.6 L954.5,355.2 L957.6,354.8 L962,365.6 L965.9,365.6 L968.8,362.7 L971.7,363.9 L973.8,361.9 L978,363.9 L980.9,363.9 L985.1,349.7 L987.2,351.8 L989.7,361.9 L992.2,357.7 L994.7,365.2 L997.7,356.8 L1001,355.2 L1006,349.7 L1011.1,354.3 L1015.2,348.5 L1018.6,347.6 L1023.6,348.9 L1027.4,339.3 L1031.6,342.6 L1034.5,339.7 L1036.2,341.3 L1039.5,335.1 L1043.7,337.6 L1048.7,334.2 L1050.8,333.8 L1053.8,331.7 L1056.3,335.1 L1058.8,335.5 L1061.3,338 L1063.8,336.7 L1065.9,338.8 L1068.8,335.9 L1072.2,336.3 L1075.5,337.2 L1078.9,341.8 L1084.7,339.7 L1091.4,341.7 L1097.8,344.9 L1102.6,350.8 L1106.3,352.9 L1112.7,358.8 L1117,357.2 L1122.3,358.8 L1126.6,367.8 L1129.2,363 L1131.9,366.8 L1134,372.6 L1138.3,371 L1143.1,381.1 L1148.9,384.9 L1154.3,388.1 L1159.6,387 L1162.8,381.7 L1171.3,381.7 L1179.8,392.3 L1186.2,384.3 L1192.6,384.9 L1199.5,391.3 L1205.4,393.9 L1209.1,392.9 L1212.3,386.5 L1218.2,380.1 L1223.2,384.8 L1227.3,379.1 L1230.5,370.6 L1234.6,367.4 L1237.8,369.8 L1242.7,367.4 L1247.5,369.8 L1253.2,366.2 L1256.4,368.6 L1260.5,367.8 L1263.3,364.6 L1265.3,374.3 L1269.4,372.3 L1276.7,370.2 L1284,371.9 L1288.8,366.2 L1292.9,367.4 L1297.7,367.8 L1299.4,365.4 L1304.2,366.2 L1309.1,368.6 L1313.9,369.4 L1316.4,373.1 L1319.6,370.6 L1322,371.9 L1325.3,368.6 L1328.9,363.8 L1331.7,365 L1335,369.4 L1339,371.9 L1345.5,375.9 L1349.6,373.1 L1354.4,369.4 L1359.2,370.5 L1363.4,372.2 L1366.7,376 L1369.2,370.5 L1373.4,370.1 L1378.4,371.4 L1388.1,361.3 L1395.2,368.8 L1401.9,370.5 L1406.9,373.4 L1413.6,374.3 L1420.3,374.7 L1425.3,378.9 L1427.8,378 L1431.2,381 L1436.2,380.1 L1437.9,381.8 L1440.4,375.5 L1442.9,378 L1447.1,385.2 L1451.3,383.9 L1455.5,388.5 L1460.5,386.8 L1465.5,387.3 L1469.3,392.7 L1472.2,391.4 L1475.6,388.1 L1478.9,388.9 L1484,387.3 L1487.3,390.6 L1489,388.5 L1493.2,393.1 L1498.1,390.6 L1505.4,398.3 L1509.4,394.3 L1512.7,399.1 L1517.5,395.9 L1522,399.1 L1525.6,396.7 L1530.5,395.9 L1534.5,396.3 L1536.6,394.3 L1539.8,397.1 L1543,392.3 L1545.9,393.5 L1551.5,389.8 L1554.8,389.8 L1557.2,392.7 L1559.6,390.6 L1564.5,391.5 L1569.4,393.9 L1574.2,391.1 L1579.1,394.3 L1583.1,394.3 L1585.5,391.5 L1588,395.1 L1591.2,394.3 L1596.9,387 L1598.9,387.8 L1602.1,392.7 L1606.6,391.9 L1610.6,393.1 L1615.1,394.3 L1620.8,393.1 L1622.8,406.4 L1622.8,258.9 L40.2,258.9 Z" fill="url(#gg)" clip-path="url(#above)"/>
<path d="M40.2,258.4 L46.3,257.7 L48.4,259.7 L50.2,255.8 L53.7,254.8 L58,251.9 L61,252.4 L64.9,248.7 L67.1,250.2 L70.6,246.7 L73.2,247.6 L74.9,249.7 L77.1,248 L80.1,254.5 L83.1,256.3 L85.3,258.4 L87.9,265.8 L92.3,259.7 L97.5,264.1 L100.9,263.2 L106.1,264.9 L109.6,267.5 L113.1,264.9 L116.5,264.1 L120,260.6 L123.5,259.7 L127,261.5 L130.4,260.6 L133,258 L136.5,258.9 L143.4,259.3 L147.8,257.6 L154.7,255 L159.9,253.2 L164.3,251 L168.6,253.2 L173.8,254.5 L177.3,253.2 L180.7,251 L184.3,253.7 L188.2,250.6 L192.1,252.4 L196.5,255 L199.1,251.9 L206,257.1 L210.4,243.7 L213,246.3 L215.6,245.4 L219.9,248 L222.5,248.9 L224.7,253.7 L229.4,250.6 L232.5,245.8 L235.5,247.1 L239.9,249.7 L244.2,255.8 L247.7,255.8 L251.1,258 L255.5,255.4 L257.6,258 L259.8,254.1 L263.3,255.4 L266.8,253.7 L269.4,256.7 L273.7,252.8 L276.3,252.8 L279.8,250.6 L283.2,252.4 L288.4,248.9 L292.8,249.7 L295.4,251.9 L304.9,243.2 L308,248 L309.7,245.8 L311.9,251 L316.2,254.1 L317.9,258 L320,268.7 L322.8,282.4 L326,287.4 L332.4,282.9 L336.5,288.8 L340.2,287.9 L344.7,294.3 L349.3,292 L352.9,294.3 L357.5,298.9 L362.5,301.6 L365.7,299.8 L369.4,295.7 L370.8,297 L372.3,301 L374.2,322 L375.5,343 L376.3,400 L377.6,518 L379.1,460 L382.2,426.3 L385.8,438.5 L388.3,445.8 L392.5,417.8 L394.4,410.5 L396.2,403.1 L399.2,397.7 L401.1,404.4 L402.9,403.1 L404.7,405.6 L407.2,404.4 L410.2,405.6 L411.4,401.9 L413.2,406.2 L421.8,406.2 L423.6,398.3 L429.7,391 L433.3,405.6 L438.2,405.6 L443.1,401.9 L449.2,397.1 L454.1,404.4 L457.7,405.6 L462.6,399.7 L466.2,399.5 L468.7,404.4 L470.5,404.8 L472.3,402.9 L474.5,405.9 L479.8,405.9 L481.3,395.8 L483.5,395 L488.8,387.9 L495.6,396.2 L500.1,390.9 L503.1,398 L505.3,395.8 L511.4,399.2 L514.7,396.9 L516.6,398.8 L519.2,398 L522.6,403.7 L525.6,404.8 L528.6,404.4 L531.7,405.9 L534.3,404.4 L536.9,405.9 L542.2,405.9 L545.2,399.9 L549.7,402.6 L555.7,396.9 L559.5,402.9 L564,397.7 L568.5,401.1 L572.3,398 L579,398.8 L581.3,401.1 L583.5,406.3 L590,418 L620,425 L660,420 L700,424 L735,414 L745,406.6 L752,412 L762,414 L766.9,406.3 L768.1,391.1 L771.1,378.9 L773.5,375.9 L776,379.6 L779.6,366.8 L782.1,365.6 L785.7,366.8 L790.6,362.5 L794.2,361.9 L796.7,364.3 L799.7,360.7 L805.2,365 L808.8,358.9 L812.5,358.3 L816.1,355.2 L819.2,355.8 L822.8,351 L827.1,354.6 L832,364.3 L835,361.9 L841.8,361.2 L847,363.5 L853,361.6 L855.3,363.1 L858.3,362 L860.6,368 L863.6,365.3 L872.2,358.9 L877.1,363.5 L883.9,358.6 L886.9,359.3 L890.6,363.1 L895.2,364.2 L900.4,358.9 L904.2,361.2 L910.2,362.3 L916.2,357.8 L922.2,351.8 L926.4,349.5 L929.4,356.3 L932.7,354.8 L937.6,348.8 L942.5,353.7 L947,351.4 L950.8,352.6 L954.5,355.2 L957.6,354.8 L962,365.6 L965.9,365.6 L968.8,362.7 L971.7,363.9 L973.8,361.9 L978,363.9 L980.9,363.9 L985.1,349.7 L987.2,351.8 L989.7,361.9 L992.2,357.7 L994.7,365.2 L997.7,356.8 L1001,355.2 L1006,349.7 L1011.1,354.3 L1015.2,348.5 L1018.6,347.6 L1023.6,348.9 L1027.4,339.3 L1031.6,342.6 L1034.5,339.7 L1036.2,341.3 L1039.5,335.1 L1043.7,337.6 L1048.7,334.2 L1050.8,333.8 L1053.8,331.7 L1056.3,335.1 L1058.8,335.5 L1061.3,338 L1063.8,336.7 L1065.9,338.8 L1068.8,335.9 L1072.2,336.3 L1075.5,337.2 L1078.9,341.8 L1084.7,339.7 L1091.4,341.7 L1097.8,344.9 L1102.6,350.8 L1106.3,352.9 L1112.7,358.8 L1117,357.2 L1122.3,358.8 L1126.6,367.8 L1129.2,363 L1131.9,366.8 L1134,372.6 L1138.3,371 L1143.1,381.1 L1148.9,384.9 L1154.3,388.1 L1159.6,387 L1162.8,381.7 L1171.3,381.7 L1179.8,392.3 L1186.2,384.3 L1192.6,384.9 L1199.5,391.3 L1205.4,393.9 L1209.1,392.9 L1212.3,386.5 L1218.2,380.1 L1223.2,384.8 L1227.3,379.1 L1230.5,370.6 L1234.6,367.4 L1237.8,369.8 L1242.7,367.4 L1247.5,369.8 L1253.2,366.2 L1256.4,368.6 L1260.5,367.8 L1263.3,364.6 L1265.3,374.3 L1269.4,372.3 L1276.7,370.2 L1284,371.9 L1288.8,366.2 L1292.9,367.4 L1297.7,367.8 L1299.4,365.4 L1304.2,366.2 L1309.1,368.6 L1313.9,369.4 L1316.4,373.1 L1319.6,370.6 L1322,371.9 L1325.3,368.6 L1328.9,363.8 L1331.7,365 L1335,369.4 L1339,371.9 L1345.5,375.9 L1349.6,373.1 L1354.4,369.4 L1359.2,370.5 L1363.4,372.2 L1366.7,376 L1369.2,370.5 L1373.4,370.1 L1378.4,371.4 L1388.1,361.3 L1395.2,368.8 L1401.9,370.5 L1406.9,373.4 L1413.6,374.3 L1420.3,374.7 L1425.3,378.9 L1427.8,378 L1431.2,381 L1436.2,380.1 L1437.9,381.8 L1440.4,375.5 L1442.9,378 L1447.1,385.2 L1451.3,383.9 L1455.5,388.5 L1460.5,386.8 L1465.5,387.3 L1469.3,392.7 L1472.2,391.4 L1475.6,388.1 L1478.9,388.9 L1484,387.3 L1487.3,390.6 L1489,388.5 L1493.2,393.1 L1498.1,390.6 L1505.4,398.3 L1509.4,394.3 L1512.7,399.1 L1517.5,395.9 L1522,399.1 L1525.6,396.7 L1530.5,395.9 L1534.5,396.3 L1536.6,394.3 L1539.8,397.1 L1543,392.3 L1545.9,393.5 L1551.5,389.8 L1554.8,389.8 L1557.2,392.7 L1559.6,390.6 L1564.5,391.5 L1569.4,393.9 L1574.2,391.1 L1579.1,394.3 L1583.1,394.3 L1585.5,391.5 L1588,395.1 L1591.2,394.3 L1596.9,387 L1598.9,387.8 L1602.1,392.7 L1606.6,391.9 L1610.6,393.1 L1615.1,394.3 L1620.8,393.1 L1622.8,406.4 L1622.8,258.9 L40.2,258.9 Z" fill="url(#rg)" clip-path="url(#below)"/>
<line x1="318" y1="259.6" x2="1616" y2="259.6" stroke="#ffffff" stroke-opacity="0.04" stroke-width="1"/>
<path d="M40.2,258.4 L46.3,257.7 L48.4,259.7 L50.2,255.8 L53.7,254.8 L58,251.9 L61,252.4 L64.9,248.7 L67.1,250.2 L70.6,246.7 L73.2,247.6 L74.9,249.7 L77.1,248 L80.1,254.5 L83.1,256.3 L85.3,258.4 L87.9,265.8 L92.3,259.7 L97.5,264.1 L100.9,263.2 L106.1,264.9 L109.6,267.5 L113.1,264.9 L116.5,264.1 L120,260.6 L123.5,259.7 L127,261.5 L130.4,260.6 L133,258 L136.5,258.9 L143.4,259.3 L147.8,257.6 L154.7,255 L159.9,253.2 L164.3,251 L168.6,253.2 L173.8,254.5 L177.3,253.2 L180.7,251 L184.3,253.7 L188.2,250.6 L192.1,252.4 L196.5,255 L199.1,251.9 L206,257.1 L210.4,243.7 L213,246.3 L215.6,245.4 L219.9,248 L222.5,248.9 L224.7,253.7 L229.4,250.6 L232.5,245.8 L235.5,247.1 L239.9,249.7 L244.2,255.8 L247.7,255.8 L251.1,258 L255.5,255.4 L257.6,258 L259.8,254.1 L263.3,255.4 L266.8,253.7 L269.4,256.7 L273.7,252.8 L276.3,252.8 L279.8,250.6 L283.2,252.4 L288.4,248.9 L292.8,249.7 L295.4,251.9 L304.9,243.2 L308,248 L309.7,245.8 L311.9,251 L316.2,254.1 L317.9,258 L320,268.7 L322.8,282.4 L326,287.4 L332.4,282.9 L336.5,288.8 L340.2,287.9 L344.7,294.3 L349.3,292 L352.9,294.3 L357.5,298.9 L362.5,301.6 L365.7,299.8 L369.4,295.7 L370.8,297 L372.3,301 L374.2,322 L375.5,343 L376.3,400 L377.6,518 L379.1,460 L382.2,426.3 L385.8,438.5 L388.3,445.8 L392.5,417.8 L394.4,410.5 L396.2,403.1 L399.2,397.7 L401.1,404.4 L402.9,403.1 L404.7,405.6 L407.2,404.4 L410.2,405.6 L411.4,401.9 L413.2,406.2 L421.8,406.2 L423.6,398.3 L429.7,391 L433.3,405.6 L438.2,405.6 L443.1,401.9 L449.2,397.1 L454.1,404.4 L457.7,405.6 L462.6,399.7 L466.2,399.5 L468.7,404.4 L470.5,404.8 L472.3,402.9 L474.5,405.9 L479.8,405.9 L481.3,395.8 L483.5,395 L488.8,387.9 L495.6,396.2 L500.1,390.9 L503.1,398 L505.3,395.8 L511.4,399.2 L514.7,396.9 L516.6,398.8 L519.2,398 L522.6,403.7 L525.6,404.8 L528.6,404.4 L531.7,405.9 L534.3,404.4 L536.9,405.9 L542.2,405.9 L545.2,399.9 L549.7,402.6 L555.7,396.9 L559.5,402.9 L564,397.7 L568.5,401.1 L572.3,398 L579,398.8 L581.3,401.1 L583.5,406.3 L590,418 L620,425 L660,420 L700,424 L735,414 L745,406.6 L752,412 L762,414 L766.9,406.3 L768.1,391.1 L771.1,378.9 L773.5,375.9 L776,379.6 L779.6,366.8 L782.1,365.6 L785.7,366.8 L790.6,362.5 L794.2,361.9 L796.7,364.3 L799.7,360.7 L805.2,365 L808.8,358.9 L812.5,358.3 L816.1,355.2 L819.2,355.8 L822.8,351 L827.1,354.6 L832,364.3 L835,361.9 L841.8,361.2 L847,363.5 L853,361.6 L855.3,363.1 L858.3,362 L860.6,368 L863.6,365.3 L872.2,358.9 L877.1,363.5 L883.9,358.6 L886.9,359.3 L890.6,363.1 L895.2,364.2 L900.4,358.9 L904.2,361.2 L910.2,362.3 L916.2,357.8 L922.2,351.8 L926.4,349.5 L929.4,356.3 L932.7,354.8 L937.6,348.8 L942.5,353.7 L947,351.4 L950.8,352.6 L954.5,355.2 L957.6,354.8 L962,365.6 L965.9,365.6 L968.8,362.7 L971.7,363.9 L973.8,361.9 L978,363.9 L980.9,363.9 L985.1,349.7 L987.2,351.8 L989.7,361.9 L992.2,357.7 L994.7,365.2 L997.7,356.8 L1001,355.2 L1006,349.7 L1011.1,354.3 L1015.2,348.5 L1018.6,347.6 L1023.6,348.9 L1027.4,339.3 L1031.6,342.6 L1034.5,339.7 L1036.2,341.3 L1039.5,335.1 L1043.7,337.6 L1048.7,334.2 L1050.8,333.8 L1053.8,331.7 L1056.3,335.1 L1058.8,335.5 L1061.3,338 L1063.8,336.7 L1065.9,338.8 L1068.8,335.9 L1072.2,336.3 L1075.5,337.2 L1078.9,341.8 L1084.7,339.7 L1091.4,341.7 L1097.8,344.9 L1102.6,350.8 L1106.3,352.9 L1112.7,358.8 L1117,357.2 L1122.3,358.8 L1126.6,367.8 L1129.2,363 L1131.9,366.8 L1134,372.6 L1138.3,371 L1143.1,381.1 L1148.9,384.9 L1154.3,388.1 L1159.6,387 L1162.8,381.7 L1171.3,381.7 L1179.8,392.3 L1186.2,384.3 L1192.6,384.9 L1199.5,391.3 L1205.4,393.9 L1209.1,392.9 L1212.3,386.5 L1218.2,380.1 L1223.2,384.8 L1227.3,379.1 L1230.5,370.6 L1234.6,367.4 L1237.8,369.8 L1242.7,367.4 L1247.5,369.8 L1253.2,366.2 L1256.4,368.6 L1260.5,367.8 L1263.3,364.6 L1265.3,374.3 L1269.4,372.3 L1276.7,370.2 L1284,371.9 L1288.8,366.2 L1292.9,367.4 L1297.7,367.8 L1299.4,365.4 L1304.2,366.2 L1309.1,368.6 L1313.9,369.4 L1316.4,373.1 L1319.6,370.6 L1322,371.9 L1325.3,368.6 L1328.9,363.8 L1331.7,365 L1335,369.4 L1339,371.9 L1345.5,375.9 L1349.6,373.1 L1354.4,369.4 L1359.2,370.5 L1363.4,372.2 L1366.7,376 L1369.2,370.5 L1373.4,370.1 L1378.4,371.4 L1388.1,361.3 L1395.2,368.8 L1401.9,370.5 L1406.9,373.4 L1413.6,374.3 L1420.3,374.7 L1425.3,378.9 L1427.8,378 L1431.2,381 L1436.2,380.1 L1437.9,381.8 L1440.4,375.5 L1442.9,378 L1447.1,385.2 L1451.3,383.9 L1455.5,388.5 L1460.5,386.8 L1465.5,387.3 L1469.3,392.7 L1472.2,391.4 L1475.6,388.1 L1478.9,388.9 L1484,387.3 L1487.3,390.6 L1489,388.5 L1493.2,393.1 L1498.1,390.6 L1505.4,398.3 L1509.4,394.3 L1512.7,399.1 L1517.5,395.9 L1522,399.1 L1525.6,396.7 L1530.5,395.9 L1534.5,396.3 L1536.6,394.3 L1539.8,397.1 L1543,392.3 L1545.9,393.5 L1551.5,389.8 L1554.8,389.8 L1557.2,392.7 L1559.6,390.6 L1564.5,391.5 L1569.4,393.9 L1574.2,391.1 L1579.1,394.3 L1583.1,394.3 L1585.5,391.5 L1588,395.1 L1591.2,394.3 L1596.9,387 L1598.9,387.8 L1602.1,392.7 L1606.6,391.9 L1610.6,393.1 L1615.1,394.3 L1620.8,393.1 L1622.8,406.4" fill="none" stroke="#16c784" stroke-width="2.5" stroke-linejoin="round" stroke-linecap="round" clip-path="url(#above)"/>
<path d="M40.2,258.4 L46.3,257.7 L48.4,259.7 L50.2,255.8 L53.7,254.8 L58,251.9 L61,252.4 L64.9,248.7 L67.1,250.2 L70.6,246.7 L73.2,247.6 L74.9,249.7 L77.1,248 L80.1,254.5 L83.1,256.3 L85.3,258.4 L87.9,265.8 L92.3,259.7 L97.5,264.1 L100.9,263.2 L106.1,264.9 L109.6,267.5 L113.1,264.9 L116.5,264.1 L120,260.6 L123.5,259.7 L127,261.5 L130.4,260.6 L133,258 L136.5,258.9 L143.4,259.3 L147.8,257.6 L154.7,255 L159.9,253.2 L164.3,251 L168.6,253.2 L173.8,254.5 L177.3,253.2 L180.7,251 L184.3,253.7 L188.2,250.6 L192.1,252.4 L196.5,255 L199.1,251.9 L206,257.1 L210.4,243.7 L213,246.3 L215.6,245.4 L219.9,248 L222.5,248.9 L224.7,253.7 L229.4,250.6 L232.5,245.8 L235.5,247.1 L239.9,249.7 L244.2,255.8 L247.7,255.8 L251.1,258 L255.5,255.4 L257.6,258 L259.8,254.1 L263.3,255.4 L266.8,253.7 L269.4,256.7 L273.7,252.8 L276.3,252.8 L279.8,250.6 L283.2,252.4 L288.4,248.9 L292.8,249.7 L295.4,251.9 L304.9,243.2 L308,248 L309.7,245.8 L311.9,251 L316.2,254.1 L317.9,258 L320,268.7 L322.8,282.4 L326,287.4 L332.4,282.9 L336.5,288.8 L340.2,287.9 L344.7,294.3 L349.3,292 L352.9,294.3 L357.5,298.9 L362.5,301.6 L365.7,299.8 L369.4,295.7 L370.8,297 L372.3,301 L374.2,322 L375.5,343 L376.3,400 L377.6,518 L379.1,460 L382.2,426.3 L385.8,438.5 L388.3,445.8 L392.5,417.8 L394.4,410.5 L396.2,403.1 L399.2,397.7 L401.1,404.4 L402.9,403.1 L404.7,405.6 L407.2,404.4 L410.2,405.6 L411.4,401.9 L413.2,406.2 L421.8,406.2 L423.6,398.3 L429.7,391 L433.3,405.6 L438.2,405.6 L443.1,401.9 L449.2,397.1 L454.1,404.4 L457.7,405.6 L462.6,399.7 L466.2,399.5 L468.7,404.4 L470.5,404.8 L472.3,402.9 L474.5,405.9 L479.8,405.9 L481.3,395.8 L483.5,395 L488.8,387.9 L495.6,396.2 L500.1,390.9 L503.1,398 L505.3,395.8 L511.4,399.2 L514.7,396.9 L516.6,398.8 L519.2,398 L522.6,403.7 L525.6,404.8 L528.6,404.4 L531.7,405.9 L534.3,404.4 L536.9,405.9 L542.2,405.9 L545.2,399.9 L549.7,402.6 L555.7,396.9 L559.5,402.9 L564,397.7 L568.5,401.1 L572.3,398 L579,398.8 L581.3,401.1 L583.5,406.3 L590,418 L620,425 L660,420 L700,424 L735,414 L745,406.6 L752,412 L762,414 L766.9,406.3 L768.1,391.1 L771.1,378.9 L773.5,375.9 L776,379.6 L779.6,366.8 L782.1,365.6 L785.7,366.8 L790.6,362.5 L794.2,361.9 L796.7,364.3 L799.7,360.7 L805.2,365 L808.8,358.9 L812.5,358.3 L816.1,355.2 L819.2,355.8 L822.8,351 L827.1,354.6 L832,364.3 L835,361.9 L841.8,361.2 L847,363.5 L853,361.6 L855.3,363.1 L858.3,362 L860.6,368 L863.6,365.3 L872.2,358.9 L877.1,363.5 L883.9,358.6 L886.9,359.3 L890.6,363.1 L895.2,364.2 L900.4,358.9 L904.2,361.2 L910.2,362.3 L916.2,357.8 L922.2,351.8 L926.4,349.5 L929.4,356.3 L932.7,354.8 L937.6,348.8 L942.5,353.7 L947,351.4 L950.8,352.6 L954.5,355.2 L957.6,354.8 L962,365.6 L965.9,365.6 L968.8,362.7 L971.7,363.9 L973.8,361.9 L978,363.9 L980.9,363.9 L985.1,349.7 L987.2,351.8 L989.7,361.9 L992.2,357.7 L994.7,365.2 L997.7,356.8 L1001,355.2 L1006,349.7 L1011.1,354.3 L1015.2,348.5 L1018.6,347.6 L1023.6,348.9 L1027.4,339.3 L1031.6,342.6 L1034.5,339.7 L1036.2,341.3 L1039.5,335.1 L1043.7,337.6 L1048.7,334.2 L1050.8,333.8 L1053.8,331.7 L1056.3,335.1 L1058.8,335.5 L1061.3,338 L1063.8,336.7 L1065.9,338.8 L1068.8,335.9 L1072.2,336.3 L1075.5,337.2 L1078.9,341.8 L1084.7,339.7 L1091.4,341.7 L1097.8,344.9 L1102.6,350.8 L1106.3,352.9 L1112.7,358.8 L1117,357.2 L1122.3,358.8 L1126.6,367.8 L1129.2,363 L1131.9,366.8 L1134,372.6 L1138.3,371 L1143.1,381.1 L1148.9,384.9 L1154.3,388.1 L1159.6,387 L1162.8,381.7 L1171.3,381.7 L1179.8,392.3 L1186.2,384.3 L1192.6,384.9 L1199.5,391.3 L1205.4,393.9 L1209.1,392.9 L1212.3,386.5 L1218.2,380.1 L1223.2,384.8 L1227.3,379.1 L1230.5,370.6 L1234.6,367.4 L1237.8,369.8 L1242.7,367.4 L1247.5,369.8 L1253.2,366.2 L1256.4,368.6 L1260.5,367.8 L1263.3,364.6 L1265.3,374.3 L1269.4,372.3 L1276.7,370.2 L1284,371.9 L1288.8,366.2 L1292.9,367.4 L1297.7,367.8 L1299.4,365.4 L1304.2,366.2 L1309.1,368.6 L1313.9,369.4 L1316.4,373.1 L1319.6,370.6 L1322,371.9 L1325.3,368.6 L1328.9,363.8 L1331.7,365 L1335,369.4 L1339,371.9 L1345.5,375.9 L1349.6,373.1 L1354.4,369.4 L1359.2,370.5 L1363.4,372.2 L1366.7,376 L1369.2,370.5 L1373.4,370.1 L1378.4,371.4 L1388.1,361.3 L1395.2,368.8 L1401.9,370.5 L1406.9,373.4 L1413.6,374.3 L1420.3,374.7 L1425.3,378.9 L1427.8,378 L1431.2,381 L1436.2,380.1 L1437.9,381.8 L1440.4,375.5 L1442.9,378 L1447.1,385.2 L1451.3,383.9 L1455.5,388.5 L1460.5,386.8 L1465.5,387.3 L1469.3,392.7 L1472.2,391.4 L1475.6,388.1 L1478.9,388.9 L1484,387.3 L1487.3,390.6 L1489,388.5 L1493.2,393.1 L1498.1,390.6 L1505.4,398.3 L1509.4,394.3 L1512.7,399.1 L1517.5,395.9 L1522,399.1 L1525.6,396.7 L1530.5,395.9 L1534.5,396.3 L1536.6,394.3 L1539.8,397.1 L1543,392.3 L1545.9,393.5 L1551.5,389.8 L1554.8,389.8 L1557.2,392.7 L1559.6,390.6 L1564.5,391.5 L1569.4,393.9 L1574.2,391.1 L1579.1,394.3 L1583.1,394.3 L1585.5,391.5 L1588,395.1 L1591.2,394.3 L1596.9,387 L1598.9,387.8 L1602.1,392.7 L1606.6,391.9 L1610.6,393.1 L1615.1,394.3 L1620.8,393.1 L1622.8,406.4" fill="none" stroke="#e9404c" stroke-width="2.6" stroke-linejoin="round" stroke-linecap="round" clip-path="url(#below)"/>
<rect x="394" y="407" width="403.5" height="120" rx="10" fill="#222531" stroke="#ffffff" stroke-opacity="0.025" stroke-width="1" filter="url(#sh)"/>
<text x="414.3" y="447.1" font-size="16.2" fill="#ffffff" font-weight="700" textLength="85.4" lengthAdjust="spacing" stroke="#ffffff" stroke-width="0.3">10/11/2025</text>
<text x="692.6" y="447.1" font-size="16" fill="#a1a7bb" textLength="84.4" lengthAdjust="spacing" stroke="#a1a7bb" stroke-width="0.5">5:30:00 AM</text>
<circle cx="419.6" cy="474.8" r="5.2" fill="#ea3943"/>
<text x="436.2" y="480.8" font-size="16.3" fill="#a1a7bb" textLength="92" lengthAdjust="spacing" stroke="#a1a7bb" stroke-width="0.35">Market Cap:</text>
<text x="539.9" y="480.8" font-size="15.8" fill="#ffffff" font-weight="700" textLength="65.1" lengthAdjust="spacing" stroke="#ffffff" stroke-width="0.35">$44.41B</text>
<circle cx="419.6" cy="495.2" r="5.2" fill="#242d57"/>
<text x="436.2" y="500.6" font-size="16.3" fill="#a1a7bb" textLength="59" lengthAdjust="spacing" stroke="#a1a7bb" stroke-width="0.35">Volume:</text>
<text x="507.6" y="500.6" font-size="15.8" fill="#ffffff" font-weight="700" textLength="64.8" lengthAdjust="spacing" stroke="#ffffff" stroke-width="0.35">$13.60B</text>
<circle cx="377.6" cy="518" r="5" fill="#ea3943" stroke="#ffffff" stroke-width="1.8"/>
</svg></body></html>
